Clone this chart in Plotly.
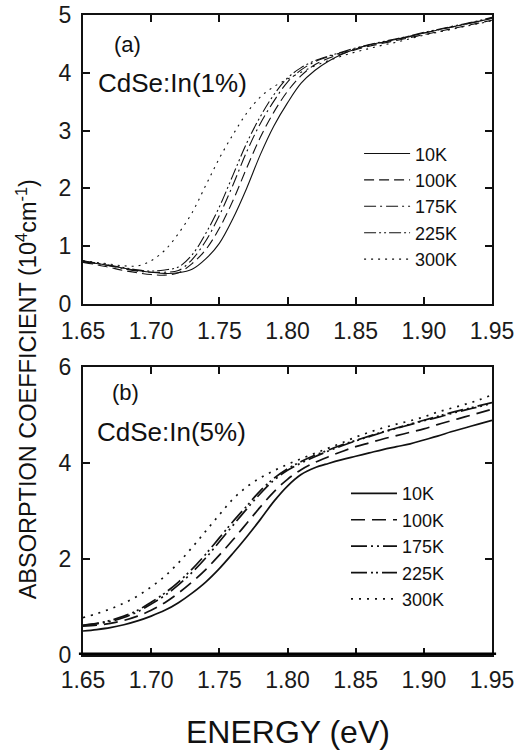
import plotly.graph_objects as go

energy = [1.65, 1.66, 1.67, 1.68, 1.69, 1.70, 1.71, 1.72, 1.73, 1.74, 1.75,
          1.76, 1.77, 1.78, 1.79, 1.80, 1.81, 1.82, 1.83, 1.84, 1.85,
          1.86, 1.87, 1.88, 1.89, 1.90, 1.91, 1.92, 1.93, 1.94, 1.95]

temps = ["10K", "100K", "175K", "225K", "300K"]

# Panel (a): CdSe:In(1%)
a_10K = [0.73, 0.70, 0.66, 0.62, 0.58, 0.55, 0.53, 0.54, 0.60, 0.78, 1.05,
         1.48, 2.00, 2.58, 3.08, 3.48, 3.82, 4.04, 4.20, 4.32, 4.41,
         4.48, 4.53, 4.58, 4.63, 4.69, 4.74, 4.79, 4.84, 4.89, 4.94]
a_100K = [0.72, 0.68, 0.63, 0.58, 0.54, 0.51, 0.50, 0.54, 0.70, 0.94, 1.31,
          1.79, 2.35, 2.88, 3.32, 3.68, 3.95, 4.14, 4.25, 4.33, 4.40,
          4.46, 4.51, 4.56, 4.61, 4.66, 4.71, 4.76, 4.81, 4.86, 4.91]
a_175K = [0.74, 0.70, 0.66, 0.61, 0.57, 0.55, 0.55, 0.58, 0.77, 1.09, 1.53,
          2.06, 2.63, 3.12, 3.51, 3.84, 4.05, 4.19, 4.28, 4.35, 4.42,
          4.48, 4.53, 4.58, 4.63, 4.69, 4.74, 4.79, 4.84, 4.89, 4.95]
a_225K = [0.75, 0.71, 0.67, 0.63, 0.59, 0.57, 0.59, 0.64, 0.85, 1.22, 1.68,
          2.23, 2.78, 3.24, 3.62, 3.91, 4.09, 4.21, 4.29, 4.36, 4.43,
          4.49, 4.54, 4.59, 4.64, 4.70, 4.75, 4.80, 4.85, 4.90, 4.96]
a_300K = [0.75, 0.72, 0.69, 0.66, 0.66, 0.75, 0.93, 1.22, 1.58, 2.05, 2.52,
          2.93, 3.30, 3.58, 3.76, 3.89, 4.01, 4.12, 4.21, 4.29, 4.36,
          4.42, 4.48, 4.53, 4.59, 4.65, 4.70, 4.75, 4.80, 4.85, 4.90]

# Panel (b): CdSe:In(5%)
b_10K = [0.50, 0.53, 0.57, 0.63, 0.71, 0.81, 0.93, 1.09, 1.29, 1.52, 1.80,
         2.12, 2.46, 2.82, 3.20, 3.52, 3.76, 3.90, 3.99, 4.07, 4.14,
         4.21, 4.28, 4.34, 4.40, 4.48, 4.56, 4.65, 4.73, 4.81, 4.89]
b_100K = [0.60, 0.62, 0.66, 0.72, 0.81, 0.93, 1.09, 1.29, 1.52, 1.78, 2.08,
          2.40, 2.74, 3.08, 3.40, 3.66, 3.86, 4.01, 4.13, 4.24, 4.34,
          4.42, 4.50, 4.57, 4.64, 4.71, 4.80, 4.88, 4.96, 5.04, 5.12]
b_175K = [0.62, 0.65, 0.70, 0.78, 0.90, 1.06, 1.24, 1.46, 1.72, 2.02, 2.36,
          2.70, 3.04, 3.36, 3.64, 3.85, 4.00, 4.13, 4.25, 4.36, 4.46,
          4.55, 4.64, 4.72, 4.80, 4.88, 4.95, 5.03, 5.10, 5.17, 5.24]
b_225K = [0.62, 0.66, 0.72, 0.81, 0.93, 1.10, 1.29, 1.52, 1.79, 2.10, 2.44,
          2.78, 3.10, 3.42, 3.68, 3.88, 4.03, 4.16, 4.27, 4.38, 4.47,
          4.56, 4.65, 4.73, 4.81, 4.89, 4.97, 5.05, 5.12, 5.19, 5.26]
b_300K = [0.78, 0.86, 0.96, 1.08, 1.23, 1.42, 1.64, 1.92, 2.24, 2.58, 2.92,
          3.25, 3.50, 3.69, 3.84, 3.97, 4.09, 4.20, 4.31, 4.42, 4.54,
          4.64, 4.73, 4.81, 4.88, 4.96, 5.06, 5.14, 5.22, 5.31, 5.42]

x_ticks = [1.65, 1.70, 1.75, 1.80, 1.85, 1.90, 1.95]
x_ticklabels = ["1.65", "1.70", "1.75", "1.80", "1.85", "1.90", "1.95"]
ya_ticks = [0, 1, 2, 3, 4, 5]
yb_ticks = [0, 2, 4, 6]

dashes_a = ["solid", "10px,5px", "12px,4px,2px,4px", "12px,3px,2px,3px,2px,3px", "2px,5px"]
dashes_b = ["solid", "14px,7px", "16px,4px,2px,4px,2px,4px", "16px,4px,2px,3px,2px,4px", "2px,6px"]
FONT = "Liberation Sans, Arial, sans-serif"
INK = "#111"

fig = go.Figure()
series_a = [a_10K, a_100K, a_175K, a_225K, a_300K]
series_b = [b_10K, b_100K, b_175K, b_225K, b_300K]
for name, ys, d in zip(temps, series_a, dashes_a):
    fig.add_trace(go.Scatter(x=energy, y=ys, mode="lines", name=name,
                             line=dict(color=INK, width=1.1, dash=d, shape="spline"),
                             xaxis="x", yaxis="y", legend="legend"))
for name, ys, d in zip(temps, series_b, dashes_b):
    fig.add_trace(go.Scatter(x=energy, y=ys, mode="lines", name=name,
                             line=dict(color=INK, width=1.7, dash=d, shape="spline"),
                             xaxis="x2", yaxis="y2", legend="legend2"))

axis_common = dict(showline=True, linecolor=INK, linewidth=2, mirror="allticks",
                   ticks="inside", ticklen=7, tickwidth=2, tickcolor=INK,
                   showgrid=False, zeroline=False, automargin=False,
                   tickfont=dict(family=FONT, size=23, color="#1a1a1a"))

leg_font = dict(family=FONT, size=18, color=INK)
fig.update_layout(
    width=518, height=753,
    paper_bgcolor="white", plot_bgcolor="white",
    margin=dict(l=83, r=26, t=15, b=98),
    showlegend=True,
    xaxis=dict(domain=[0, 1], range=[1.65, 1.95], tickvals=x_ticks, ticktext=x_ticklabels,
               anchor="y", ticklabelstandoff=5, **axis_common),
    yaxis=dict(domain=[0.5484, 1.0], range=[0, 5], tickvals=ya_ticks, anchor="x",
               ticklabelstandoff=5, **axis_common),
    xaxis2=dict(domain=[0, 1], range=[1.65, 1.95], tickvals=x_ticks, ticktext=x_ticklabels,
                anchor="y2", ticklabelstandoff=3, **axis_common),
    yaxis2=dict(domain=[0, 0.45], range=[0, 6], tickvals=yb_ticks, anchor="x2",
                ticklabelstandoff=5, **axis_common),
    legend=dict(x=0.675, y=0.812, xanchor="left", yanchor="top", bgcolor="rgba(0,0,0,0)",
                font=leg_font, itemwidth=46, tracegroupgap=0),
    legend2=dict(x=0.643, y=0.281, xanchor="left", yanchor="top", bgcolor="rgba(0,0,0,0)",
                 font=leg_font, itemwidth=46, tracegroupgap=0),
)

fig.add_annotation(text="(a)", xref="x domain", yref="y domain", x=0.108, y=0.897,
                   xanchor="center", yanchor="middle",
                   showarrow=False, font=dict(family=FONT, size=22, color=INK))
fig.add_annotation(text="CdSe:In(1%)", xref="x domain", yref="y domain", x=0.032, y=0.763,
                   xanchor="left", yanchor="middle",
                   showarrow=False, font=dict(family=FONT, size=26, color=INK))
fig.add_annotation(text="(b)", xref="x2 domain", yref="y2 domain", x=0.103, y=0.91,
                   xanchor="center", yanchor="middle",
                   showarrow=False, font=dict(family=FONT, size=22, color=INK))
fig.add_annotation(text="CdSe:In(5%)", xref="x2 domain", yref="y2 domain", x=0.03, y=0.774,
                   xanchor="left", yanchor="middle",
                   showarrow=False, font=dict(family=FONT, size=26, color=INK))
fig.add_annotation(text="ENERGY (eV)", xref="paper", yref="paper", x=0.5, y=-0.12,
                   xanchor="center", yanchor="middle",
                   showarrow=False, font=dict(family=FONT, size=32, color=INK))
fig.add_annotation(text="ABSORPTION COEFFICIENT (10<sup>4</sup>cm<sup>-1</sup>)",
                   xref="paper", yref="paper", x=-0.137, y=0.415, textangle=-90,
                   xanchor="center", yanchor="middle",
                   showarrow=False, font=dict(family=FONT, size=23.5, color=INK))
# thick baseline of panel (b)
fig.add_shape(type="line", xref="x2 domain", yref="y2", x0=-0.01, x1=1.01, y0=0, y1=0,
              line=dict(color="#000", width=5))

fig.write_html("out.html", config={"displayModeBar": False},
               post_script="document.body.style.margin='0';document.body.style.overflow='hidden';")
